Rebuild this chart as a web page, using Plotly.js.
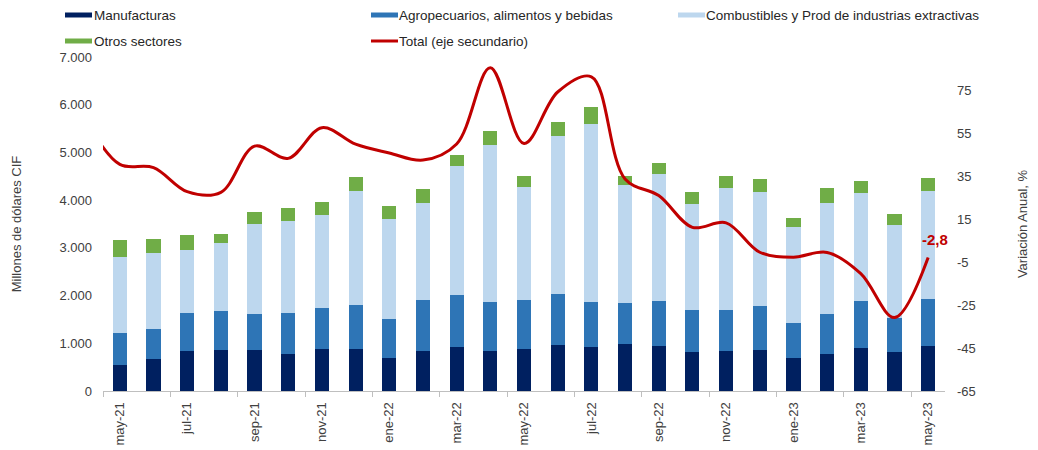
<!DOCTYPE html>
<html>
<head>
<meta charset="utf-8">
<script src="https://cdn.plot.ly/plotly-3.0.1.min.js"></script>
<style>html,body{margin:0;padding:0;background:#fff;}#chart{width:1038px;height:450px;}</style>
</head>
<body>
<div id="chart"></div>
<script>
// ---------- DATA ----------
const months = ['may-21','jun-21','jul-21','ago-21','sep-21','oct-21','nov-21','dic-21',
  'ene-22','feb-22','mar-22','abr-22','may-22','jun-22','jul-22','ago-22','sep-22','oct-22',
  'nov-22','dic-22','ene-23','feb-23','mar-23','abr-23','may-23'];
const manufacturas = [539,671,839,860,860,769,874,874,685,845,916,832,887,958,916,985,943,818,839,866,692,769,901,818,943];
const agropecuarios = [677,629,803,824,754,859,859,929,818,1056,1097,1041,1028,1069,957,860,944,880,859,909,734,845,986,719,992];
const combustibles = [1587,1600,1308,1419,1887,1943,1957,2383,2096,2034,2711,3284,2362,3319,3718,2480,2656,2229,2558,2404,2006,2334,2258,1950,2251];
const otros = [369,287,320,188,245,259,266,294,279,306,217,294,224,287,356,176,243,245,258,259,195,308,258,230,273];
// Variación anual del total (%), eje secundario
const totalVar = [40.5,39,27.8,27.5,49,43.3,57.6,49.9,45.8,42.5,50,85.5,50.2,74.2,81.3,33.7,26,11.2,13.3,-0.4,-2.7,-0.5,-10.4,-30.8,-2.8];
const totalVarPrev = 61;   // abr-21 (only the start of the curve is visible at the left edge)
const seriesNames = ['Manufacturas','Agropecuarios, alimentos y bebidas','Combustibles y Prod de industrias extractivas','Otros sectores','Total (eje secundario)'];
const leftTitle = 'Millones de dólares CIF';
const rightTitle = 'Variación Anual, %';

// ---------- STYLE ----------
const colors = ['#002060','#2E75B6','#BDD7EE','#70AD47','#C00000'];
const FONT = 'Arial, "Liberation Sans", sans-serif';
const TXT = '#404040';
const W = 1038, H = 450, ML = 103, MR = 93, MT = 57, MB = 59;
const PW = W - ML - MR, PH = H - MT - MB;
const px = x => (x - ML) / PW;
const py = y => (H - MB - y) / PH;

const idx = months.map((_, i) => i);
const barSeries = [manufacturas, agropecuarios, combustibles, otros];

const traces = barSeries.map((vals, k) => ({
  type: 'bar', x: idx, y: vals, name: seriesNames[k],
  marker: {color: colors[k], line: {width: 0}},
  hoverinfo: 'skip'
}));
traces.push({
  type: 'scatter', mode: 'lines', yaxis: 'y2',
  x: [-1].concat(idx), y: [totalVarPrev].concat(totalVar),
  name: seriesNames[4],
  line: {color: colors[4], width: 3, shape: 'spline', smoothing: 1},
  hoverinfo: 'skip'
});

// custom legend (shapes + text)
const legendPos = [
  {sx: 65, tx: 93, y: 15},
  {sx: 371, tx: 398, y: 15},
  {sx: 678, tx: 705, y: 15},
  {sx: 65, tx: 93, y: 41},
  {sx: 371, tx: 398, y: 41}
];
const shapes = [];
const annotations = [];
legendPos.forEach((p, k) => {
  if (k < 4) {
    shapes.push({type: 'rect', xref: 'paper', yref: 'paper',
      x0: px(p.sx), x1: px(p.sx + 27), y0: py(p.y + 2.5), y1: py(p.y - 2.5),
      fillcolor: colors[k], line: {width: 0}});
  } else {
    shapes.push({type: 'line', xref: 'paper', yref: 'paper',
      x0: px(p.sx), x1: px(p.sx + 27), y0: py(p.y), y1: py(p.y),
      line: {color: colors[k], width: 3}});
  }
  annotations.push({xref: 'paper', yref: 'paper', x: px(p.tx), y: py(p.y),
    xanchor: 'left', yanchor: 'middle', showarrow: false, text: seriesNames[k],
    font: {family: FONT, size: 13.5, color: '#262626'}, borderpad: 0});
});
const last = totalVar.length - 1;
annotations.push({x: idx[last], y: totalVar[last], xref: 'x', yref: 'y2',
  text: '<b>' + String(totalVar[last]).replace('.', ',') + '</b>',
  showarrow: false, xshift: 7, yshift: 18,
  font: {family: FONT, size: 15, color: '#C00000'}});

const y2ticks = [];
for (let v = -65; v <= 75; v += 20) y2ticks.push(v);
const xTickVals = idx.filter(i => i % 2 === 0);
const xMinor = [];
for (let b = -0.5; b < months.length; b += 2) xMinor.push(b);

const layout = {
  width: W, height: H,
  margin: {l: ML, r: MR, t: MT, b: MB, pad: 0},
  paper_bgcolor: '#fff', plot_bgcolor: '#fff',
  font: {family: FONT, size: 13, color: TXT},
  separators: ',.',
  barmode: 'stack', bargap: 0.58,
  showlegend: false,
  xaxis: {
    range: [-0.5, months.length - 0.5], showgrid: false, zeroline: false,
    showline: true, linecolor: '#BFBFBF', linewidth: 1,
    tickmode: 'array', tickvals: xTickVals, ticktext: xTickVals.map(i => months[i]),
    tickangle: -90, ticks: '', ticklabelstandoff: 5,
    tickfont: {family: FONT, size: 13, color: TXT},
    minor: {tickmode: 'array', tickvals: xMinor, ticks: 'outside', ticklen: 5, tickcolor: '#BFBFBF', tickwidth: 1, showgrid: false}
  },
  yaxis: {
    range: [0, 7000], dtick: 1000, tick0: 0, tickformat: ',.0f',
    showgrid: false, zeroline: false, showline: false, ticks: '',
    ticklabelstandoff: 10,
    tickfont: {family: FONT, size: 13, color: TXT},
    title: {text: leftTitle, font: {family: FONT, size: 13, color: TXT}, standoff: 34}
  },
  yaxis2: {
    overlaying: 'y', side: 'right', range: [-65, 90.5],
    tickmode: 'array', tickvals: y2ticks, ticktext: y2ticks.map(String),
    showgrid: false, zeroline: false, showline: false, ticks: '',
    ticklabelstandoff: 11,
    tickfont: {family: FONT, size: 13, color: TXT},
    title: {text: rightTitle, font: {family: FONT, size: 13, color: TXT}, standoff: 43}
  },
  shapes: shapes,
  annotations: annotations
};

Plotly.newPlot('chart', traces, layout, {staticPlot: true, displayModeBar: false});
</script>
</body>
</html>
